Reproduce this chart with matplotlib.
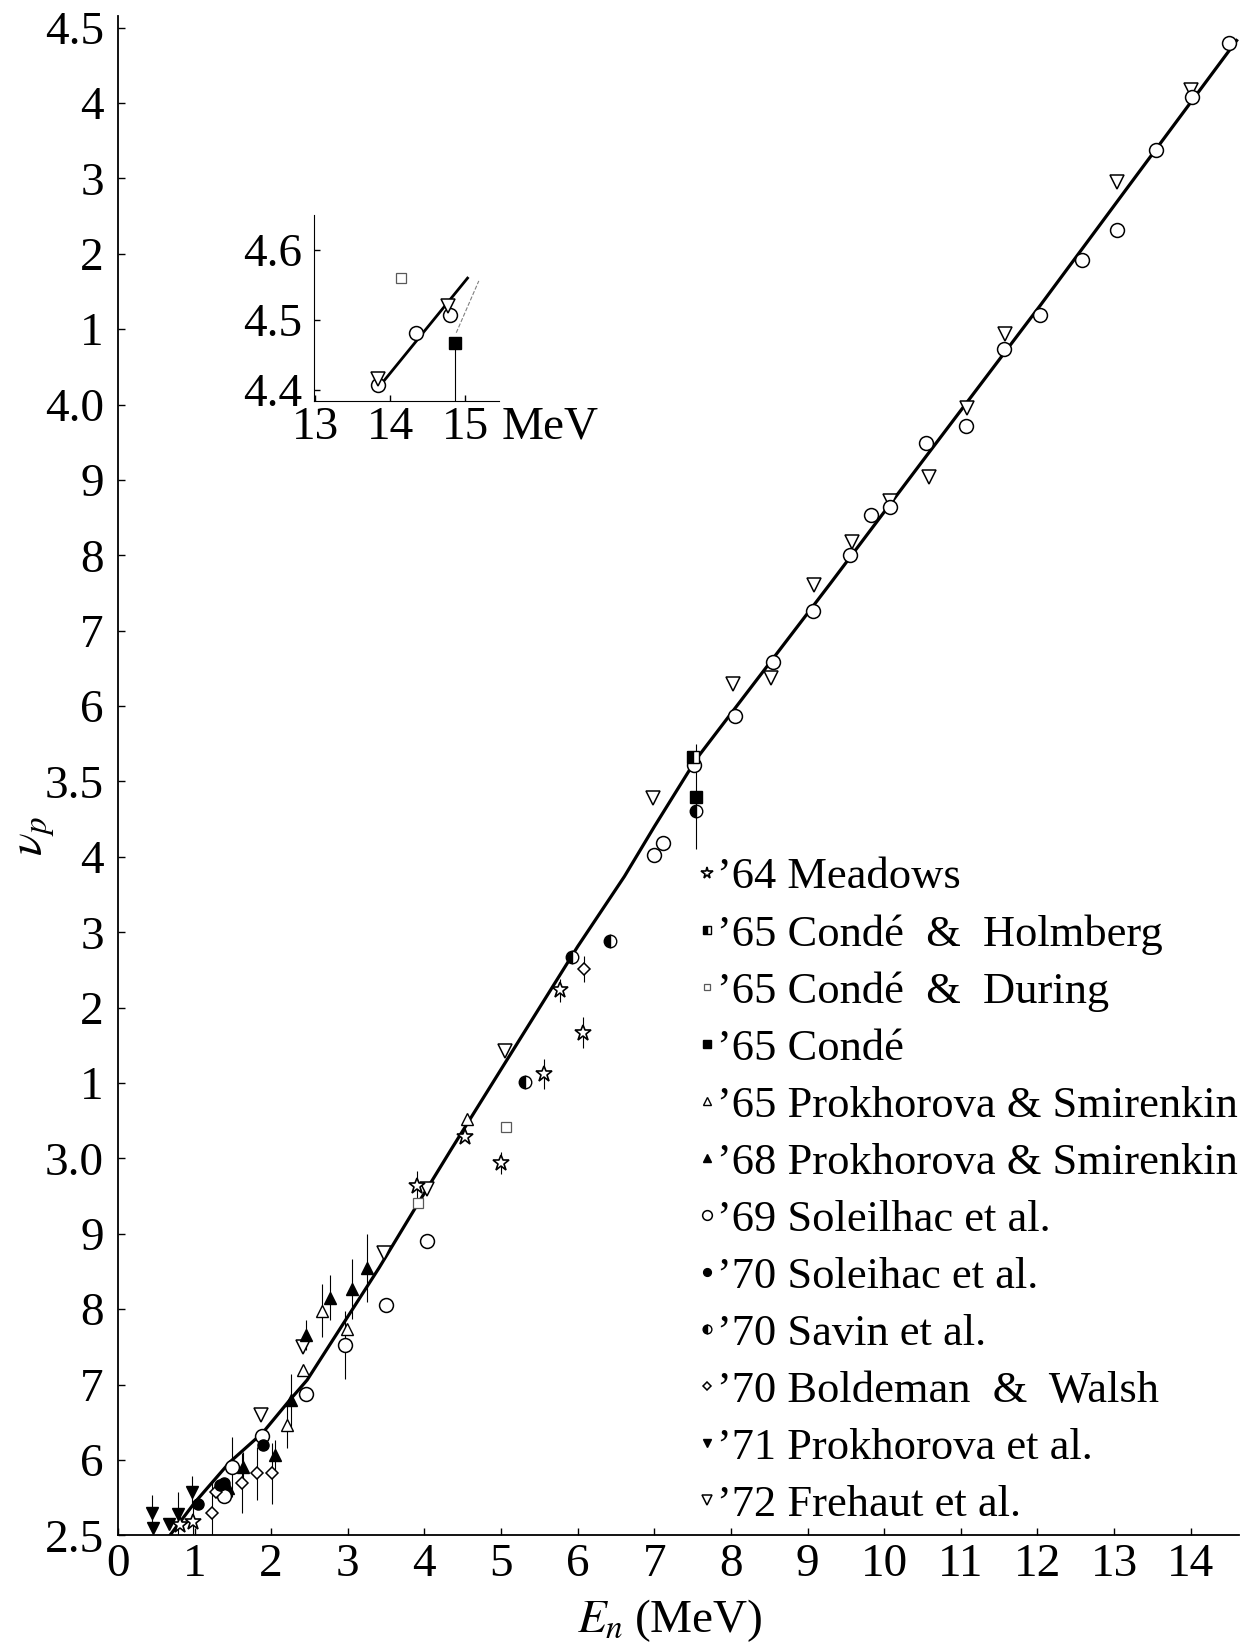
import matplotlib.pyplot as plt
from matplotlib.lines import Line2D
import numpy as np

plt.rcParams['font.family'] = ['Liberation Serif', 'DejaVu Serif']
plt.rcParams['mathtext.fontset'] = 'stix'

# evaluated curve (E_n in MeV, nu_p)
curve_e = [0.68, 1.0, 1.46, 1.89, 2.24, 2.47, 3.0, 3.41, 3.88, 4.35, 5.0, 6.0,
           6.61, 7.0, 7.55, 8.0, 9.3, 10.5, 12.04, 13.3, 14.6]
curve_v = [2.5, 2.543, 2.597, 2.636, 2.679, 2.706, 2.79, 2.855, 2.934, 3.012, 3.118, 3.281,
           3.374, 3.44, 3.53, 3.59, 3.763, 3.925, 4.132, 4.305, 4.483]

# '64 Meadows
meadows_e = [0.81, 0.98, 3.90, 4.53, 5.0, 5.56, 5.77, 6.07]
meadows_v = [2.514, 2.518, 2.964, 3.029, 2.994, 3.112, 3.223, 3.167]
meadows_err = [0.0, 0.02, 0.019, 0.0, 0.015, 0.02, 0.015, 0.02]

# '65 Conde & Holmberg
holmberg_e = [7.50]
holmberg_v = [3.533]

# '65 Conde & During
during_e = [3.92, 5.07]
during_v = [2.941, 3.041]

# '65 Conde
conde_e = [7.55]
conde_v = [3.48]
conde_err = [0.07]

# '65 Prokhorova & Smirenkin
prok65_e = [2.21, 2.42, 2.67, 2.99, 4.55]
prok65_v = [2.646, 2.719, 2.798, 2.774, 3.052]
prok65_err = [0.03, 0.0, 0.035, 0.0, 0.0]

# '68 Prokhorova & Smirenkin
prok68_e = [1.44, 1.63, 2.05, 2.26, 2.46, 2.77, 3.05, 3.25]
prok68_v = [2.563, 2.591, 2.607, 2.679, 2.766, 2.815, 2.827, 2.855]
prok68_err = [0.0, 0.02, 0.02, 0.035, 0.02, 0.03, 0.04, 0.045]

# '69 Soleilhac et al.
sol69_e = [1.38, 1.49, 1.88, 2.45, 2.97, 3.50, 4.04, 7.0, 7.12, 7.52, 8.05, 8.55, 9.07,
           9.56, 9.83, 10.07, 10.55, 11.07, 11.57, 12.04, 12.58, 13.04, 13.55, 14.02, 14.50]
sol69_v = [2.552, 2.591, 2.632, 2.688, 2.752, 2.805, 2.891, 3.402, 3.419, 3.522, 3.587, 3.659, 3.726,
           3.800, 3.853, 3.864, 3.949, 3.972, 4.074, 4.119, 4.192, 4.232, 4.338, 4.408, 4.480]
sol69_err = [0.0, 0.04, 0.0, 0.0, 0.045, 0.008, 0.0, 0.0, 0.0, 0.0, 0.0, 0.0, 0.0,
             0.0, 0.0, 0.0, 0.0, 0.0, 0.0, 0.0, 0.0, 0.0, 0.0, 0.0, 0.0]

# '70 Soleihac et al.
sol70_e = [1.04, 1.33, 1.39, 1.89]
sol70_v = [2.541, 2.567, 2.569, 2.620]

# '70 Savin et al.
savin_e = [5.31, 5.93, 6.42, 7.54]
savin_v = [3.101, 3.267, 3.288, 3.461]

# '70 Boldeman & Walsh
bold_e = [1.23, 1.28, 1.62, 1.82, 2.01, 6.08]
bold_v = [2.530, 2.558, 2.569, 2.582, 2.582, 3.251]
bold_err = [0.04, 0.0, 0.04, 0.035, 0.04, 0.017]

# '71 Prokhorova et al.
prok71_e = [0.44, 0.46, 0.67, 0.79, 0.97]
prok71_v = [2.530, 2.509, 2.515, 2.528, 2.558]
prok71_err = [0.024, 0.0, 0.0, 0.03, 0.02]

# '72 Frehaut et al.
freh_e = [1.87, 2.41, 3.47, 4.04, 5.05, 6.98, 8.03, 8.52, 9.08, 9.58, 10.07, 10.58,
          11.08, 11.58, 13.04, 14.01]
freh_v = [2.659, 2.750, 2.874, 2.959, 3.143, 3.478, 3.630, 3.637, 3.761, 3.818, 3.872, 3.904,
          3.995, 4.094, 4.295, 4.418]

# inset (13-15 MeV)
inset_line_e = [13.90, 15.03]
inset_line_v = [4.411, 4.56]
inset_dash_e = [14.88, 15.18]
inset_dash_v = [4.482, 4.556]
inset_sol_e = [13.84, 14.34, 14.80]
inset_sol_v = [4.408, 4.481, 4.507]
inset_freh_e = [13.84, 14.77]
inset_freh_v = [4.416, 4.52]
inset_conde_e = [14.86]
inset_conde_v = [4.468]
inset_during_e = [14.15]
inset_during_v = [4.56]

ytick_vals = np.round(np.arange(2.5, 4.501, 0.1), 1)
ytick_labels = ['2.5', '6', '7', '8', '9', '3.0', '1', '2', '3', '4', '3.5',
                '6', '7', '8', '9', '4.0', '1', '2', '3', '4', '4.5']
xtick_vals = list(range(0, 15))

# marker styles
st = {
    'meadows': dict(marker='*', ms=12, mfc='white', mec='black', mew=1.2),
    'holmberg': dict(marker='s', ms=8, mfc='black', mec='black', mew=1.0,
                     fillstyle='left', markerfacecoloralt='white'),
    'during': dict(marker='s', ms=7, mfc='white', mec='0.35', mew=0.9),
    'conde': dict(marker='s', ms=8, mfc='black', mec='black'),
    'prok65': dict(marker='^', ms=8, mfc='white', mec='black', mew=1.0),
    'prok68': dict(marker='^', ms=9, mfc='black', mec='black'),
    'sol69': dict(marker='o', ms=10, mfc='white', mec='black', mew=1.1),
    'sol70': dict(marker='o', ms=8, mfc='black', mec='black'),
    'savin': dict(marker='o', ms=9, mfc='black', mec='black', mew=1.0,
                  fillstyle='left', markerfacecoloralt='white'),
    'bold': dict(marker='D', ms=6.5, mfc='white', mec='black', mew=1.1),
    'prok71': dict(marker='v', ms=9, mfc='black', mec='black'),
    'freh': dict(marker='v', ms=10, mfc='white', mec='black', mew=1.1),
}

labels = {
    'meadows': '\u201964 Meadows',
    'holmberg': '\u201965 Cond\u00e9  &  Holmberg',
    'during': '\u201965 Cond\u00e9  &  During',
    'conde': '\u201965 Cond\u00e9',
    'prok65': '\u201965 Prokhorova & Smirenkin',
    'prok68': '\u201968 Prokhorova & Smirenkin',
    'sol69': '\u201969 Soleilhac et al.',
    'sol70': '\u201970 Soleihac et al.',
    'savin': '\u201970 Savin et al.',
    'bold': '\u201970 Boldeman  &  Walsh',
    'prok71': '\u201971 Prokhorova et al.',
    'freh': '\u201972 Frehaut et al.',
}

fig = plt.figure(figsize=(12.54, 16.42), dpi=100)
ax = fig.add_axes([0.094, 0.065, 0.894, 0.925])

ax.plot(curve_e, curve_v, color='black', lw=2.3, zorder=2)

ebkw = dict(ls='none', ecolor='black', elinewidth=0.8, capsize=0, zorder=3)
ax.errorbar(meadows_e, meadows_v, yerr=meadows_err, **ebkw, **st['meadows'])
ax.plot(holmberg_e, holmberg_v, ls='none', zorder=4, **st['holmberg'])
ax.plot(during_e, during_v, ls='none', zorder=3, **st['during'])
ax.errorbar(conde_e, conde_v, yerr=conde_err, **ebkw, **st['conde'])
ax.errorbar(prok65_e, prok65_v, yerr=prok65_err, **ebkw, **st['prok65'])
ax.errorbar(prok68_e, prok68_v, yerr=prok68_err, **ebkw, **st['prok68'])
ax.errorbar(sol69_e, sol69_v, yerr=sol69_err, **ebkw, **st['sol69'])
ax.plot(sol70_e, sol70_v, ls='none', zorder=4, **st['sol70'])
ax.plot(savin_e, savin_v, ls='none', zorder=4, **st['savin'])
ax.errorbar(bold_e, bold_v, yerr=bold_err, **ebkw, **st['bold'])
ax.errorbar(prok71_e, prok71_v, yerr=prok71_err, **ebkw, **st['prok71'])
ax.plot(freh_e, freh_v, ls='none', zorder=3, **st['freh'])

ax.set_xlim(0, 14.63)
ax.set_ylim(2.5, 4.515)
ax.set_xticks(xtick_vals)
ax.set_yticks(ytick_vals)
ax.set_yticklabels(ytick_labels)
ax.tick_params(direction='in', length=5, width=1, labelsize=34)
ax.tick_params(axis='y', pad=10)
ax.tick_params(axis='x', pad=6)
for s in ['top', 'right']:
    ax.spines[s].set_visible(False)
for s in ['left', 'bottom']:
    ax.spines[s].set_linewidth(1.3)

ax.set_ylabel(r'$\nu_p$', fontsize=34)
ax.yaxis.set_label_coords(-0.054, 0.46)
ax.set_xlabel(r'$E_n\;$(MeV)', fontsize=34)
ax.xaxis.set_label_coords(0.492, -0.041)

handles = [Line2D([], [], ls='none', **st[k]) for k in labels]
ax.legend(handles, list(labels.values()), loc='upper left',
          bbox_to_anchor=(0.5585, 0.478), bbox_transform=fig.transFigure,
          frameon=False, fontsize=32, handlelength=0.3, handletextpad=0.08,
          labelspacing=0.38, borderpad=0, borderaxespad=0, markerscale=0.7)

# inset
ax2 = fig.add_axes([0.250, 0.756, 0.148, 0.113])
ax2.plot(inset_line_e, inset_line_v, color='black', lw=2.0)
ax2.plot(inset_dash_e, inset_dash_v, color='0.5', lw=0.8, ls='--')
ax2.plot(inset_sol_e, inset_sol_v, ls='none', **st['sol69'])
ax2.plot(inset_freh_e, inset_freh_v, ls='none', **st['freh'])
ax2.errorbar(inset_conde_e, inset_conde_v, yerr=[[0.09], [0.0]], **ebkw, **st['conde'])
ax2.plot(inset_during_e, inset_during_v, ls='none', **st['during'])
ax2.set_xlim(12.98, 15.45)
ax2.set_ylim(4.385, 4.65)
ax2.set_xticks([13, 14, 15])
ax2.set_yticks([4.4, 4.5, 4.6])
ax2.set_yticklabels(['4.4', '4.5', '4.6'])
ax2.tick_params(direction='in', length=4, width=1, labelsize=34)
ax2.tick_params(axis='y', pad=8)
ax2.tick_params(axis='x', pad=4)
for s in ['top', 'right']:
    ax2.spines[s].set_visible(False)
ax2.annotate('MeV', xy=(1, 0), xycoords='axes fraction', xytext=(2, -4),
             textcoords='offset points', ha='left', va='top', fontsize=34)

fig.savefig('out.png', dpi=100)
